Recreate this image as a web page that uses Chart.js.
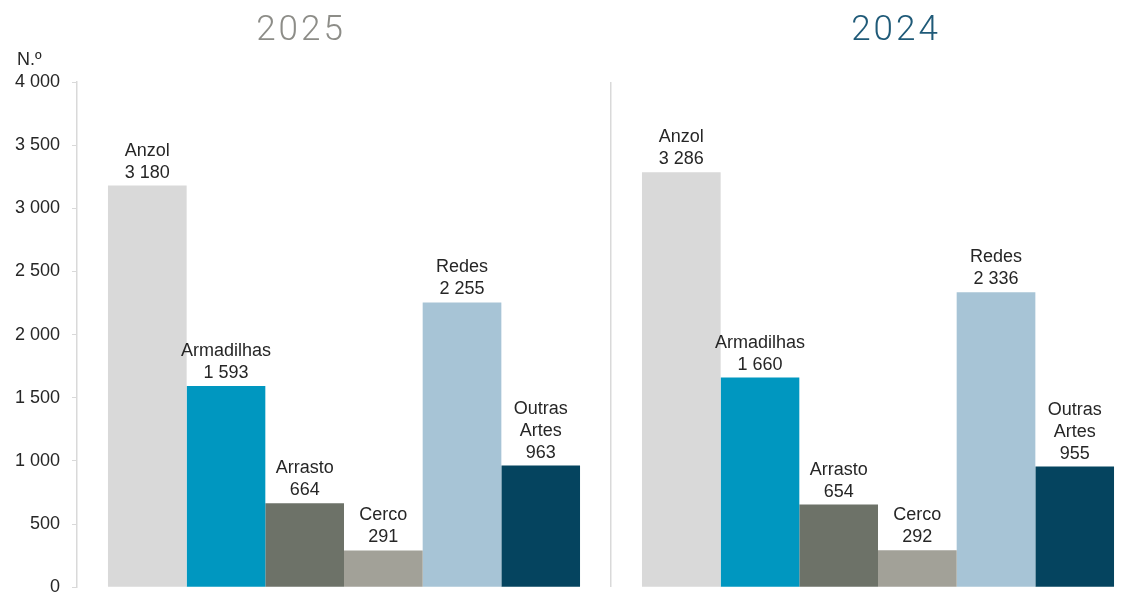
<!DOCTYPE html>
<html>
<head>
<meta charset="utf-8">
<script src="https://cdn.jsdelivr.net/npm/chart.js@4"></script>
<style>
  html, body { margin: 0; padding: 0; background: #fff; overflow: hidden; }
  #wrap { position: relative; width: 1145px; height: 610px; }
</style>
</head>
<body>
<div id="wrap"><canvas id="chart"></canvas></div>
<script>
var categories = ["Anzol", "Armadilhas", "Arrasto", "Cerco", "Redes", "Outras Artes"];
var years = ["2025", "2024"];
var values2025 = [3180, 1593, 664, 291, 2255, 963];
var values2024 = [3286, 1660, 654, 292, 2336, 955];
var yTicks = [0, 500, 1000, 1500, 2000, 2500, 3000, 3500, 4000];
var colors = ["#D9D9D9", "#0097C0", "#6D7268", "#A2A198", "#A7C4D6", "#05445F"];
var yearColors = ["#8D8D88", "#1F5A78"];

function fmt(v) {
  return String(v).replace(/\B(?=(\d{3})+(?!\d))/g, " ");
}

var datasets = categories.map(function(name, i) {
  return {
    label: name,
    data: [values2025[i], values2024[i]],
    backgroundColor: colors[i],
    borderWidth: 0
  };
});

// labels above each bar: category name (split on spaces) and value
var barLabels = {
  id: "barLabels",
  afterDatasetsDraw: function(chart) {
    var ctx = chart.ctx;
    ctx.save();
    ctx.font = "18px 'Liberation Sans', Arial, sans-serif";
    ctx.fillStyle = "#262626";
    ctx.textAlign = "center";
    ctx.textBaseline = "middle";
    chart.data.datasets.forEach(function(ds, i) {
      var meta = chart.getDatasetMeta(i);
      meta.data.forEach(function(bar, j) {
        var lines = ds.label.split(" ").concat([fmt(ds.data[j])]);
        var y = bar.y - 13;
        for (var k = lines.length - 1; k >= 0; k--) {
          ctx.fillText(lines[k], bar.x, y);
          y -= 22;
        }
      });
    });
    ctx.restore();
  }
};

// year titles and unit label
var extras = {
  id: "extras",
  afterDraw: function(chart) {
    var ctx = chart.ctx;
    ctx.save();
    ctx.font = "300 35px Roboto, 'Open Sans', sans-serif";
    ctx.letterSpacing = "3px";
    ctx.textAlign = "center";
    ctx.textBaseline = "middle";
    ctx.fillStyle = yearColors[0];
    ctx.fillText(years[0], 301, 31);
    ctx.fillStyle = yearColors[1];
    ctx.fillText(years[1], 896, 31);
    ctx.letterSpacing = "0px";
    ctx.font = "18px 'Liberation Sans', Arial, sans-serif";
    ctx.fillStyle = "#262626";
    ctx.textAlign = "left";
    ctx.fillText("N.º", 17, 60);
    ctx.restore();
  }
};

new Chart(document.getElementById("chart"), {
  type: "bar",
  data: { labels: years, datasets: datasets },
  options: {
    responsive: true,
    maintainAspectRatio: false,
    animation: false,
    categoryPercentage: 0.884,
    barPercentage: 1,
    layout: { padding: { top: 82, right: 0, bottom: 0, left: 0 } },
    plugins: { legend: { display: false }, tooltip: { enabled: false } },
    scales: {
      x: {
        ticks: { display: false },
        afterFit: function(scale) { scale.height = 0; },
        grid: {
          offset: true,
          drawTicks: false,
          lineWidth: 1.5,
          color: function(c) { return c.index === 1 ? "#D9D9D9" : "rgba(0,0,0,0)"; }
        },
        border: { display: false }
      },
      y: {
        min: 0,
        max: 4000,
        afterBuildTicks: function(scale) {
          scale.ticks = yTicks.map(function(v) { return { value: v }; });
        },
        afterFit: function(scale) { scale.width = 77; },
        ticks: {
          color: "#262626",
          padding: 12,
          font: { family: "'Liberation Sans', Arial, sans-serif", size: 18 },
          callback: function(v) { return fmt(v); }
        },
        grid: { drawOnChartArea: false, drawTicks: true, tickLength: 5, color: "#D9D9D9" },
        border: { display: true, color: "#D9D9D9", width: 1.5 }
      }
    }
  },
  plugins: [barLabels, extras]
});
</script>
</body>
</html>
